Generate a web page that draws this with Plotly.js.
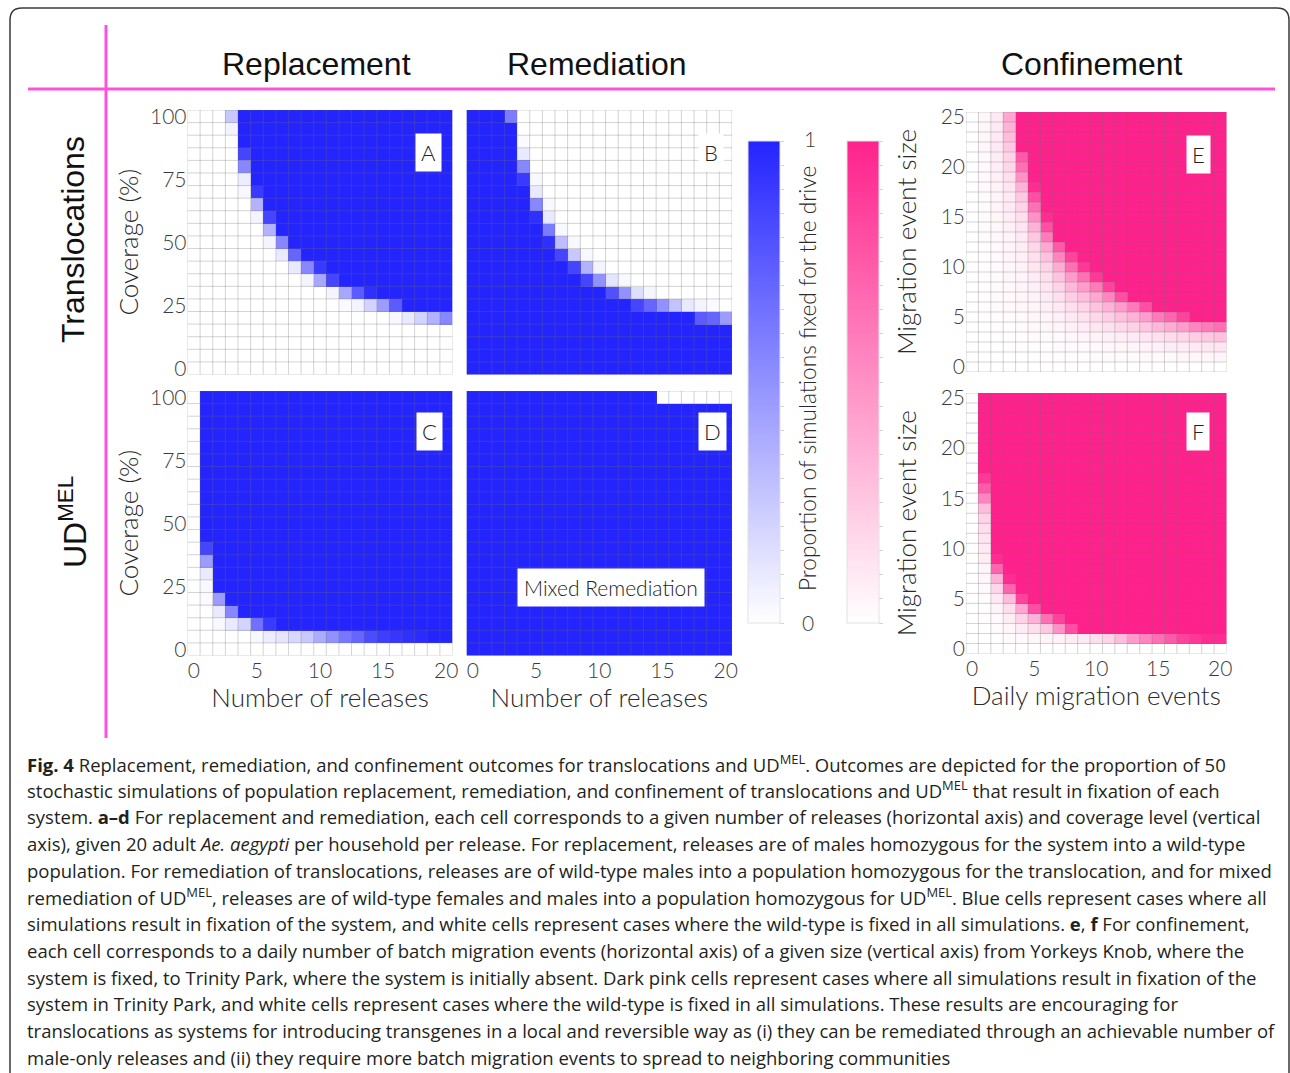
<!DOCTYPE html>
<html><head><meta charset="utf-8">
<script src="https://cdn.plot.ly/plotly-3.0.1.min.js"></script>
<style>html,body{margin:0;padding:0;background:#fff;overflow:hidden}#chart{width:1290px;height:1073px}</style>
</head><body><div id="chart"></div>
<script>
// ---------------- DATA ----------------
const releases = [0,1,2,3,4,5,6,7,8,9,10,11,12,13,14,15,16,17,18,19,20];
const coverage = [100,95,90,85,80,75,70,65,60,55,50,45,40,35,30,25,20,15,10,5,0];
const dailyMigrationEvents = [0,1,2,3,4,5,6,7,8,9,10,11,12,13,14,15,16,17,18,19,20];
const migrationEventSize = [25,24,23,22,21,20,19,18,17,16,15,14,13,12,11,10,9,8,7,6,5,4,3,2,1,0];
const releaseTicks = [0,5,10,15,20];
const coverageTicks = [0,25,50,75,100];
const sizeTicks = [0,5,10,15,20,25];
const colorbarTicks = [0,.05,.1,.15,.2,.25,.3,.35,.4,.45,.5,.55,.6,.65,.7,.75,.8,.85,.9,.95,1];

// A: replacement, translocations (rows = coverage 100 -> 0, cols = releases 0 -> 20)
const replacementTranslocations = [
 [0,0,0,.25,1, 1,1,1,1,1, 1,1,1,1,1, 1,1,1,1,1, 1],
 [0,0,0,.05,1, 1,1,1,1,1, 1,1,1,1,1, 1,1,1,1,1, 1],
 [0,0,0,0,1, 1,1,1,1,1, 1,1,1,1,1, 1,1,1,1,1, 1],
 [0,0,0,0,.85, 1,1,1,1,1, 1,1,1,1,1, 1,1,1,1,1, 1],
 [0,0,0,0,.55, 1,1,1,1,1, 1,1,1,1,1, 1,1,1,1,1, 1],
 [0,0,0,0,.08, 1,1,1,1,1, 1,1,1,1,1, 1,1,1,1,1, 1],
 [0,0,0,0,.03, .9,1,1,1,1, 1,1,1,1,1, 1,1,1,1,1, 1],
 [0,0,0,0,0, .35,1,1,1,1, 1,1,1,1,1, 1,1,1,1,1, 1],
 [0,0,0,0,0, .05,.85,1,1,1, 1,1,1,1,1, 1,1,1,1,1, 1],
 [0,0,0,0,0, 0,.35,1,1,1, 1,1,1,1,1, 1,1,1,1,1, 1],
 [0,0,0,0,0, 0,.05,.55,1,1, 1,1,1,1,1, 1,1,1,1,1, 1],
 [0,0,0,0,0, 0,0,.1,.7,1, 1,1,1,1,1, 1,1,1,1,1, 1],
 [0,0,0,0,0, 0,0,0,.1,.55, .9,1,1,1,1, 1,1,1,1,1, 1],
 [0,0,0,0,0, 0,0,0,0,.05, .4,.85,1,1,1, 1,1,1,1,1, 1],
 [0,0,0,0,0, 0,0,0,0,0, 0,.05,.4,.75,.95, 1,1,1,1,1, 1],
 [0,0,0,0,0, 0,0,0,0,0, 0,0,.02,.05,.2, .45,.75,1,1,1, 1],
 [0,0,0,0,0, 0,0,0,0,0, 0,0,0,0,0, 0,.03,.1,.2,.35, .55],
 [0,0,0,0,0, 0,0,0,0,0, 0,0,0,0,0, 0,0,0,0,0, 0],
 [0,0,0,0,0, 0,0,0,0,0, 0,0,0,0,0, 0,0,0,0,0, 0],
 [0,0,0,0,0, 0,0,0,0,0, 0,0,0,0,0, 0,0,0,0,0, 0],
 [0,0,0,0,0, 0,0,0,0,0, 0,0,0,0,0, 0,0,0,0,0, 0]
];

// B: remediation, translocations
const remediationTranslocations = [
 [1,1,1,.6,0, 0,0,0,0,0, 0,0,0,0,0, 0,0,0,0,0, 0],
 [1,1,1,1,0, 0,0,0,0,0, 0,0,0,0,0, 0,0,0,0,0, 0],
 [1,1,1,1,.02, 0,0,0,0,0, 0,0,0,0,0, 0,0,0,0,0, 0],
 [1,1,1,1,.1, 0,0,0,0,0, 0,0,0,0,0, 0,0,0,0,0, 0],
 [1,1,1,1,.55, 0,0,0,0,0, 0,0,0,0,0, 0,0,0,0,0, 0],
 [1,1,1,1,.9, .03,0,0,0,0, 0,0,0,0,0, 0,0,0,0,0, 0],
 [1,1,1,1,1, .1,0,0,0,0, 0,0,0,0,0, 0,0,0,0,0, 0],
 [1,1,1,1,1, .55,.03,0,0,0, 0,0,0,0,0, 0,0,0,0,0, 0],
 [1,1,1,1,1, .95,.1,0,0,0, 0,0,0,0,0, 0,0,0,0,0, 0],
 [1,1,1,1,1, 1,.6,.03,0,0, 0,0,0,0,0, 0,0,0,0,0, 0],
 [1,1,1,1,1, 1,.95,.3,.03,0, 0,0,0,0,0, 0,0,0,0,0, 0],
 [1,1,1,1,1, 1,1,.85,.25,.03, 0,0,0,0,0, 0,0,0,0,0, 0],
 [1,1,1,1,1, 1,1,1,.85,.35, .05,0,0,0,0, 0,0,0,0,0, 0],
 [1,1,1,1,1, 1,1,1,1,.85, .5,.12,.03,0,0, 0,0,0,0,0, 0],
 [1,1,1,1,1, 1,1,1,1,1, 1,.8,.5,.15,.04, 0,0,0,0,0, 0],
 [1,1,1,1,1, 1,1,1,1,1, 1,1,1,.85,.7, .5,.28,.1,.05,.02, 0],
 [1,1,1,1,1, 1,1,1,1,1, 1,1,1,1,1, 1,1,1,.75,.7, .45],
 [1,1,1,1,1, 1,1,1,1,1, 1,1,1,1,1, 1,1,1,1,1, 1],
 [1,1,1,1,1, 1,1,1,1,1, 1,1,1,1,1, 1,1,1,1,1, 1],
 [1,1,1,1,1, 1,1,1,1,1, 1,1,1,1,1, 1,1,1,1,1, 1],
 [1,1,1,1,1, 1,1,1,1,1, 1,1,1,1,1, 1,1,1,1,1, 1]
];

// C: replacement, UDMEL
const replacementUDMEL = [
 [0,1,1,1,1, 1,1,1,1,1, 1,1,1,1,1, 1,1,1,1,1, 1],
 [0,1,1,1,1, 1,1,1,1,1, 1,1,1,1,1, 1,1,1,1,1, 1],
 [0,1,1,1,1, 1,1,1,1,1, 1,1,1,1,1, 1,1,1,1,1, 1],
 [0,1,1,1,1, 1,1,1,1,1, 1,1,1,1,1, 1,1,1,1,1, 1],
 [0,1,1,1,1, 1,1,1,1,1, 1,1,1,1,1, 1,1,1,1,1, 1],
 [0,1,1,1,1, 1,1,1,1,1, 1,1,1,1,1, 1,1,1,1,1, 1],
 [0,1,1,1,1, 1,1,1,1,1, 1,1,1,1,1, 1,1,1,1,1, 1],
 [0,1,1,1,1, 1,1,1,1,1, 1,1,1,1,1, 1,1,1,1,1, 1],
 [0,1,1,1,1, 1,1,1,1,1, 1,1,1,1,1, 1,1,1,1,1, 1],
 [0,1,1,1,1, 1,1,1,1,1, 1,1,1,1,1, 1,1,1,1,1, 1],
 [0,1,1,1,1, 1,1,1,1,1, 1,1,1,1,1, 1,1,1,1,1, 1],
 [0,1,1,1,1, 1,1,1,1,1, 1,1,1,1,1, 1,1,1,1,1, 1],
 [0,.85,1,1,1, 1,1,1,1,1, 1,1,1,1,1, 1,1,1,1,1, 1],
 [0,.45,1,1,1, 1,1,1,1,1, 1,1,1,1,1, 1,1,1,1,1, 1],
 [0,.1,1,1,1, 1,1,1,1,1, 1,1,1,1,1, 1,1,1,1,1, 1],
 [0,.03,1,1,1, 1,1,1,1,1, 1,1,1,1,1, 1,1,1,1,1, 1],
 [0,.02,.45,1,1, 1,1,1,1,1, 1,1,1,1,1, 1,1,1,1,1, 1],
 [0,0,.1,.55,1, 1,1,1,1,1, 1,1,1,1,1, 1,1,1,1,1, 1],
 [0,0,.03,.1,.2, .65,.9,1,1,1, 1,1,1,1,1, 1,1,1,1,1, 1],
 [0,0,0,0,0, .03,.08,.12,.18,.25, .38,.5,.62,.7,.82, .88,.92,.95,.97,1, 1],
 [0,0,0,0,0, 0,0,0,0,0, 0,0,0,0,0, 0,0,0,0,0, 0]
];

// D: mixed remediation, UDMEL
const mixedRemediationUDMEL = [
 [1,1,1,1,1, 1,1,1,1,1, 1,1,1,1,1, 0,0,0,0,0, 0],
 [1,1,1,1,1, 1,1,1,1,1, 1,1,1,1,1, 1,1,1,1,1, 1],
 [1,1,1,1,1, 1,1,1,1,1, 1,1,1,1,1, 1,1,1,1,1, 1],
 [1,1,1,1,1, 1,1,1,1,1, 1,1,1,1,1, 1,1,1,1,1, 1],
 [1,1,1,1,1, 1,1,1,1,1, 1,1,1,1,1, 1,1,1,1,1, 1],
 [1,1,1,1,1, 1,1,1,1,1, 1,1,1,1,1, 1,1,1,1,1, 1],
 [1,1,1,1,1, 1,1,1,1,1, 1,1,1,1,1, 1,1,1,1,1, 1],
 [1,1,1,1,1, 1,1,1,1,1, 1,1,1,1,1, 1,1,1,1,1, 1],
 [1,1,1,1,1, 1,1,1,1,1, 1,1,1,1,1, 1,1,1,1,1, 1],
 [1,1,1,1,1, 1,1,1,1,1, 1,1,1,1,1, 1,1,1,1,1, 1],
 [1,1,1,1,1, 1,1,1,1,1, 1,1,1,1,1, 1,1,1,1,1, 1],
 [1,1,1,1,1, 1,1,1,1,1, 1,1,1,1,1, 1,1,1,1,1, 1],
 [1,1,1,1,1, 1,1,1,1,1, 1,1,1,1,1, 1,1,1,1,1, 1],
 [1,1,1,1,1, 1,1,1,1,1, 1,1,1,1,1, 1,1,1,1,1, 1],
 [1,1,1,1,1, 1,1,1,1,1, 1,1,1,1,1, 1,1,1,1,1, 1],
 [1,1,1,1,1, 1,1,1,1,1, 1,1,1,1,1, 1,1,1,1,1, 1],
 [1,1,1,1,1, 1,1,1,1,1, 1,1,1,1,1, 1,1,1,1,1, 1],
 [1,1,1,1,1, 1,1,1,1,1, 1,1,1,1,1, 1,1,1,1,1, 1],
 [1,1,1,1,1, 1,1,1,1,1, 1,1,1,1,1, 1,1,1,1,1, 1],
 [1,1,1,1,1, 1,1,1,1,1, 1,1,1,1,1, 1,1,1,1,1, 1],
 [1,1,1,1,1, 1,1,1,1,1, 1,1,1,1,1, 1,1,1,1,1, 1]
];

// E: confinement, translocations (rows = event size 25 -> 0, cols = daily events 0 -> 20)
const confinementTranslocations = [
 [0,.04,.1,.4,1, 1,1,1,1,1, 1,1,1,1,1, 1,1,1,1,1, 1],
 [0,.04,.1,.35,1, 1,1,1,1,1, 1,1,1,1,1, 1,1,1,1,1, 1],
 [0,.04,.1,.3,1, 1,1,1,1,1, 1,1,1,1,1, 1,1,1,1,1, 1],
 [0,.04,.1,.25,1, 1,1,1,1,1, 1,1,1,1,1, 1,1,1,1,1, 1],
 [0,.03,.08,.2,.75, 1,1,1,1,1, 1,1,1,1,1, 1,1,1,1,1, 1],
 [0,.03,.08,.18,.65, 1,1,1,1,1, 1,1,1,1,1, 1,1,1,1,1, 1],
 [0,.03,.07,.15,.5, 1,1,1,1,1, 1,1,1,1,1, 1,1,1,1,1, 1],
 [0,.03,.06,.12,.35, .95,1,1,1,1, 1,1,1,1,1, 1,1,1,1,1, 1],
 [0,.02,.05,.1,.25, .8,1,1,1,1, 1,1,1,1,1, 1,1,1,1,1, 1],
 [0,.02,.05,.1,.2, .65,1,1,1,1, 1,1,1,1,1, 1,1,1,1,1, 1],
 [0,.02,.04,.08,.15, .5,.95,1,1,1, 1,1,1,1,1, 1,1,1,1,1, 1],
 [0,.02,.04,.07,.12, .35,.8,1,1,1, 1,1,1,1,1, 1,1,1,1,1, 1],
 [0,.02,.04,.06,.1, .25,.6,1,1,1, 1,1,1,1,1, 1,1,1,1,1, 1],
 [0,.01,.03,.05,.08, .18,.4,.75,1,1, 1,1,1,1,1, 1,1,1,1,1, 1],
 [0,.01,.03,.05,.07, .14,.28,.55,.85,1, 1,1,1,1,1, 1,1,1,1,1, 1],
 [0,.01,.02,.04,.06, .11,.2,.38,.65,.9, 1,1,1,1,1, 1,1,1,1,1, 1],
 [0,.01,.02,.04,.05, .09,.15,.27,.45,.65, .9,1,1,1,1, 1,1,1,1,1, 1],
 [0,.01,.02,.03,.05, .07,.12,.2,.32,.45, .6,.85,1,1,1, 1,1,1,1,1, 1],
 [0,.01,.02,.03,.04, .06,.09,.14,.22,.3, .4,.55,.8,1,1, 1,1,1,1,1, 1],
 [0,.01,.02,.03,.04, .05,.07,.1,.15,.2, .27,.35,.45,.6,.8, 1,1,1,1,1, 1],
 [0,.01,.01,.02,.03, .04,.05,.07,.1,.13, .17,.22,.28,.35,.45, .6,.7,.85,1,1, 1],
 [0,0,.01,.01,.02, .03,.04,.05,.07,.09, .11,.14,.17,.21,.26, .32,.38,.45,.55,.6, .65],
 [0,0,.01,.01,.01, .02,.02,.03,.04,.05, .06,.07,.08,.1,.12, .14,.16,.19,.22,.25, .28],
 [0,0,0,.01,.01, .01,.01,.02,.02,.03, .03,.04,.04,.05,.06, .07,.08,.09,.1,.11, .12],
 [0,0,0,0,0, .01,.01,.01,.01,.01, .02,.02,.02,.02,.03, .03,.03,.04,.04,.04, .05],
 [0,0,0,0,0, 0,0,0,0,0, 0,0,0,0,0, 0,0,0,0,0, 0]
];

// F: confinement, UDMEL
const confinementUDMEL = [
 [0,1,1,1,1, 1,1,1,1,1, 1,1,1,1,1, 1,1,1,1,1, 1],
 [0,1,1,1,1, 1,1,1,1,1, 1,1,1,1,1, 1,1,1,1,1, 1],
 [0,1,1,1,1, 1,1,1,1,1, 1,1,1,1,1, 1,1,1,1,1, 1],
 [0,1,1,1,1, 1,1,1,1,1, 1,1,1,1,1, 1,1,1,1,1, 1],
 [0,1,1,1,1, 1,1,1,1,1, 1,1,1,1,1, 1,1,1,1,1, 1],
 [0,1,1,1,1, 1,1,1,1,1, 1,1,1,1,1, 1,1,1,1,1, 1],
 [0,1,1,1,1, 1,1,1,1,1, 1,1,1,1,1, 1,1,1,1,1, 1],
 [0,1,1,1,1, 1,1,1,1,1, 1,1,1,1,1, 1,1,1,1,1, 1],
 [0,.9,1,1,1, 1,1,1,1,1, 1,1,1,1,1, 1,1,1,1,1, 1],
 [0,.75,1,1,1, 1,1,1,1,1, 1,1,1,1,1, 1,1,1,1,1, 1],
 [0,.55,1,1,1, 1,1,1,1,1, 1,1,1,1,1, 1,1,1,1,1, 1],
 [0,.3,1,1,1, 1,1,1,1,1, 1,1,1,1,1, 1,1,1,1,1, 1],
 [0,.2,1,1,1, 1,1,1,1,1, 1,1,1,1,1, 1,1,1,1,1, 1],
 [0,.15,1,1,1, 1,1,1,1,1, 1,1,1,1,1, 1,1,1,1,1, 1],
 [0,.12,1,1,1, 1,1,1,1,1, 1,1,1,1,1, 1,1,1,1,1, 1],
 [0,.1,1,1,1, 1,1,1,1,1, 1,1,1,1,1, 1,1,1,1,1, 1],
 [0,.08,.95,1,1, 1,1,1,1,1, 1,1,1,1,1, 1,1,1,1,1, 1],
 [0,.05,.7,1,1, 1,1,1,1,1, 1,1,1,1,1, 1,1,1,1,1, 1],
 [0,.04,.35,.95,1, 1,1,1,1,1, 1,1,1,1,1, 1,1,1,1,1, 1],
 [0,.03,.18,.7,1, 1,1,1,1,1, 1,1,1,1,1, 1,1,1,1,1, 1],
 [0,.02,.1,.3,.85, 1,1,1,1,1, 1,1,1,1,1, 1,1,1,1,1, 1],
 [0,.01,.05,.15,.4, .8,1,1,1,1, 1,1,1,1,1, 1,1,1,1,1, 1],
 [0,.01,.03,.08,.2, .35,.65,.85,1,1, 1,1,1,1,1, 1,1,1,1,1, 1],
 [0,0,.02,.04,.08, .15,.25,.5,.8,1, 1,1,1,1,1, 1,1,1,1,1, 1],
 [0,0,.01,.02,.03, .04,.05,.06,.08,.1, .15,.2,.3,.45,.55, .65,.75,.85,.9,.95, .95],
 [0,0,0,0,0, 0,0,0,0,0, 0,0,0,0,0, 0,0,0,0,0, 0]
];

const columnHeaders = ['Replacement', 'Remediation', 'Confinement'];
const rowHeaders = ['Translocations', 'UD<sup>MEL</sup>'];
const panelLetters = ['A', 'B', 'C', 'D', 'E', 'F'];
const captionLines = [
 '<b>Fig. 4</b> Replacement, remediation, and confinement outcomes for translocations and UD<sup>MEL</sup>. Outcomes are depicted for the proportion of 50',
 'stochastic simulations of population replacement, remediation, and confinement of translocations and UD<sup>MEL</sup> that result in fixation of each',
 'system. <b>a–d</b> For replacement and remediation, each cell corresponds to a given number of releases (horizontal axis) and coverage level (vertical',
 'axis), given 20 adult <i>Ae. aegypti</i> per household per release. For replacement, releases are of males homozygous for the system into a wild-type',
 'population. For remediation of translocations, releases are of wild-type males into a population homozygous for the translocation, and for mixed',
 'remediation of UD<sup>MEL</sup>, releases are of wild-type females and males into a population homozygous for UD<sup>MEL</sup>. Blue cells represent cases where all',
 'simulations result in fixation of the system, and white cells represent cases where the wild-type is fixed in all simulations. <b>e</b>, <b>f</b> For confinement,',
 'each cell corresponds to a daily number of batch migration events (horizontal axis) of a given size (vertical axis) from Yorkeys Knob, where the',
 'system is fixed, to Trinity Park, where the system is initially absent. Dark pink cells represent cases where all simulations result in fixation of the',
 'system in Trinity Park, and white cells represent cases where the wild-type is fixed in all simulations. These results are encouraging for',
 'translocations as systems for introducing transgenes in a local and reversible way as (i) they can be remediated through an achievable number of',
 'male-only releases and (ii) they require more batch migration events to spread to neighboring communities'
];

// ---------------- LAYOUT HELPERS ----------------
const W = 1290, H = 1073;
const fx = p => p / W;
const fy = p => 1 - p / H;
const BLUE = 'rgb(36,36,255)';
const PINK = 'rgb(255,34,140)';
const blueScale = [[0, '#ffffff'], [1, BLUE]];
const pinkScale = [[0, '#ffffff'], [1, PINK]];
const LIGHT = 'Lato';
const tickFont = {family: LIGHT, size: 21, color: '#3c3c3c', weight: 300};
const titleFont = {family: LIGHT, size: 26, color: '#2a2a2a', weight: 300};

// pixel boxes [left, right, top, bottom]
const panels = [
  {box: [187.5, 452.5, 110, 374.5], x: releases, y: coverage, z: replacementTranslocations, scale: blueScale, xl: false, yl: true, yt: 'Coverage (%)', xt: '', ys: 3.5, xs: 0},
  {box: [466.5, 732, 110, 374.5], x: releases, y: coverage, z: remediationTranslocations, scale: blueScale, xl: false, yl: false, yt: '', xt: '', ys: 0, xs: 0},
  {box: [187.5, 452.5, 391, 655.5], x: releases, y: coverage, z: replacementUDMEL, scale: blueScale, xl: true, yl: true, yt: 'Coverage (%)', xt: 'Number of releases', ys: 3.5, xs: 5.5},
  {box: [466.5, 732, 391, 655.5], x: releases, y: coverage, z: mixedRemediationUDMEL, scale: blueScale, xl: true, yl: false, yt: '', xt: 'Number of releases', ys: 0, xs: 5.5},
  {box: [966, 1226.5, 112, 372], x: dailyMigrationEvents, y: migrationEventSize, z: confinementTranslocations, scale: pinkScale, xl: false, yl: true, yt: 'Migration event size', xt: '', ys: 16, xs: 0},
  {box: [966, 1226.5, 393, 653.5], x: dailyMigrationEvents, y: migrationEventSize, z: confinementUDMEL, scale: pinkScale, xl: true, yl: true, yt: 'Migration event size', xt: 'Daily migration events', ys: 16, xs: 8}
];
const yTickSets = [coverageTicks, coverageTicks, coverageTicks, coverageTicks, sizeTicks, sizeTicks];

const traces = [];
const layout = {
  width: W, height: H, margin: {l: 0, r: 0, t: 0, b: 0},
  paper_bgcolor: '#ffffff', plot_bgcolor: '#ffffff', showlegend: false,
  font: {family: LIGHT, color: '#222'},
  shapes: [], annotations: []
};

panels.forEach((p, i) => {
  const n = i === 0 ? '' : String(i + 1);
  const xStep = Math.abs(p.x[1] - p.x[0]);
  const yStep = Math.abs(p.y[1] - p.y[0]);
  const xMin = Math.min(...p.x) - xStep / 2, xMax = Math.max(...p.x) + xStep / 2;
  const yMin = Math.min(...p.y) - yStep / 2, yMax = Math.max(...p.y) + yStep / 2;
  const tr = {
    type: 'heatmap', x: p.x, y: p.y, z: p.z, zmin: 0, zmax: 1,
    colorscale: p.scale, xaxis: 'x' + n, yaxis: 'y' + n, hoverinfo: 'skip',
    showscale: (i === 0 || i === 4)
  };
  if (tr.showscale) {
    tr.colorbar = {
      x: fx(i === 0 ? 748 : 847), xanchor: 'left', xpad: 0, ypad: 0,
      y: fy(141), yanchor: 'top', len: (623 - 141) / H, lenmode: 'fraction',
      thickness: 32, thicknessmode: 'pixels', outlinewidth: 1, outlinecolor: '#e2e2e2',
      tickmode: 'array', tickvals: colorbarTicks, ticks: 'outside', ticklen: 4,
      tickcolor: '#d4d4d4', showticklabels: false
    };
  }
  traces.push(tr);
  const xa = {
    domain: [fx(p.box[0]), fx(p.box[1])], range: [xMin, xMax], anchor: 'y' + n,
    showgrid: false, zeroline: false, showline: false, ticks: '',
    tickmode: 'array', tickvals: releaseTicks, showticklabels: p.xl, tickfont: tickFont,
    fixedrange: true
  };
  if (p.xt) xa.title = {text: p.xt, font: titleFont, standoff: p.xs};
  const ya = {
    domain: [fy(p.box[3]), fy(p.box[2])], range: [yMin, yMax], anchor: 'x' + n,
    showgrid: false, zeroline: false, showline: false, ticks: '',
    tickmode: 'array', tickvals: yTickSets[i], showticklabels: p.yl, tickfont: tickFont,
    fixedrange: true
  };
  if (p.yt) ya.title = {text: p.yt, font: titleFont, standoff: p.ys};
  layout['xaxis' + n] = xa;
  layout['yaxis' + n] = ya;
  // cell grid lines drawn over the heatmap
  const gl = {color: 'rgba(110,110,110,0.3)', width: 1};
  for (let k = 0; k <= p.x.length; k++) {
    const xv = xMin + k * xStep;
    layout.shapes.push({type: 'line', xref: 'x' + n, yref: 'y' + n, x0: xv, x1: xv, y0: yMin, y1: yMax, line: gl, layer: 'above'});
  }
  for (let k = 0; k <= p.y.length; k++) {
    const yv = yMin + k * yStep;
    layout.shapes.push({type: 'line', xref: 'x' + n, yref: 'y' + n, x0: xMin, x1: xMax, y0: yv, y1: yv, line: gl, layer: 'above'});
  }
});

// decorative magenta frame lines and outer rounded border
const MAG = '#ff52da';
layout.shapes.push({type: 'line', xref: 'paper', yref: 'paper', x0: fx(106), x1: fx(106), y0: fy(25), y1: fy(738), line: {color: MAG, width: 3}});
layout.shapes.push({type: 'line', xref: 'paper', yref: 'paper', x0: fx(28), x1: fx(1275), y0: fy(89), y1: fy(89), line: {color: MAG, width: 3}});
const P = (x, y) => fx(x).toFixed(5) + ',' + fy(y).toFixed(5);
layout.shapes.push({type: 'path', xref: 'paper', yref: 'paper',
  path: 'M' + P(10, 1090) + ' L' + P(10, 20) + ' Q' + P(10, 8) + ' ' + P(22, 8) + ' L' + P(1277, 8) + ' Q' + P(1289, 8) + ' ' + P(1289, 20) + ' L' + P(1289, 1090),
  line: {color: '#3a3a3a', width: 1.5}});

const ann = (text, x, y, extra) => Object.assign({text, x: fx(x), y: fy(y), xref: 'paper', yref: 'paper', showarrow: false, xanchor: 'center', yanchor: 'middle'}, extra || {});
const headFont = {family: 'Liberation Sans', size: 32, color: '#111'};
[[316, 64], [597, 64], [1092, 64]].forEach((pos, i) => layout.annotations.push(ann(columnHeaders[i], pos[0], pos[1], {font: headFont})));
[[73, 240], [73, 522]].forEach((pos, i) => layout.annotations.push(ann(rowHeaders[i], pos[0], pos[1], {font: headFont, textangle: -90})));
[[428, 153], [711, 153], [429, 431], [712, 431], [1198, 154], [1198, 431]].forEach((pos, i) =>
  layout.annotations.push(ann(panelLetters[i], pos[0], pos[1], {font: {family: LIGHT, size: 22, color: '#222', weight: 300}, bgcolor: '#ffffff', borderpad: 5})));
layout.annotations.push(ann('Mixed Remediation', 611, 587, {font: {family: LIGHT, size: 21, color: '#222', weight: 300}, bgcolor: '#ffffff', borderpad: 6}));
layout.annotations.push(ann('1', 810, 139, {font: tickFont}));
layout.annotations.push(ann('0', 808, 622, {font: tickFont}));
layout.annotations.push(ann('Proportion of simulations fixed for the drive', 807, 379, {font: {family: LIGHT, size: 22.7, color: '#2a2a2a', weight: 300}, textangle: -90}));
captionLines.forEach((t, i) => layout.annotations.push(ann(t, 25, 763 + i * 26.75, {xanchor: 'left', align: 'left', font: {family: 'Open Sans', size: 18.5, color: '#231f20'}})));

Plotly.newPlot('chart', traces, layout, {staticPlot: true, displayModeBar: false});
</script>
</body></html>
